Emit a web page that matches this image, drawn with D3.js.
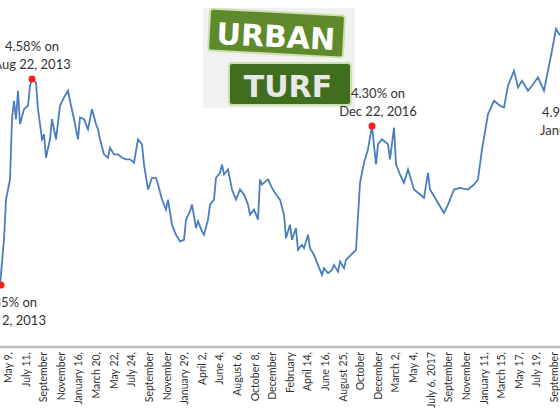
<!DOCTYPE html>
<html lang="en">
<head>
<meta charset="UTF-8" />
<title>Mortgage Rates</title>
<script src="https://d3js.org/d3.v7.min.js"></script>
<style>
  body { margin: 0; background: #fff; font-family: Lato, 'Open Sans', sans-serif; }
  svg text { fill: #333; }
</style>
</head>
<body>
<div id="chart"></div>
<script>
// week number since the May 2013 low, and the 30-yr rate (%)
const weeks = [0,2,3,5,6,7,8,9,10,12,14,15,16,18,19,21,22,23,25,26,28,30,32,34,35,37,39,40,42,44,46,48,49,50,52,54,55,57,59,61,63,65,67,69,71,72,74,76,78,79,81,83,84,86,88,90,92,93,95,96,98,99,101,102,104,105,107,108,110,111,112,114,116,117,118,120,122,124,125,127,129,130,131,133,134,136,138,140,142,143,145,146,148,149,151,152,154,155,157,159,161,162,164,166,167,169,170,172,173,178,180,182,184,186,188,189,191,194,195,197,198,200,202,204,207,210,212,214,215,218,222,224,227,230,234,237,239,241,244,247,250,252,254,257,259,261,264,266,269,272,274,276,278,280];
const rates = [3.35,3.62,3.86,3.98,4.34,4.45,4.34,4.51,4.31,4.40,4.42,4.54,4.58,4.56,4.40,4.22,4.25,4.11,4.22,4.34,4.22,4.42,4.47,4.51,4.45,4.34,4.22,4.35,4.34,4.28,4.40,4.31,4.28,4.22,4.13,4.11,4.17,4.13,4.13,4.11,4.10,4.10,4.08,4.22,4.19,4.07,3.92,3.99,3.99,3.95,3.86,3.80,3.86,3.71,3.65,3.61,3.62,3.74,3.79,3.83,3.69,3.73,3.67,3.65,3.74,3.83,3.86,3.99,4.02,4.07,4.01,4.04,3.92,3.89,3.86,3.92,3.89,3.83,3.77,3.80,3.74,3.98,3.95,3.97,3.98,3.93,3.89,3.86,3.77,3.63,3.71,3.62,3.69,3.56,3.59,3.57,3.65,3.57,3.53,3.47,3.41,3.45,3.42,3.44,3.47,3.43,3.49,3.45,3.50,3.56,3.96,4.08,4.16,4.30,4.07,4.19,4.22,4.19,4.10,4.29,4.07,4.01,3.96,4.04,3.92,3.89,3.87,4.02,3.92,3.86,3.78,3.83,3.92,3.93,3.92,3.95,3.98,4.16,4.37,4.45,4.42,4.41,4.54,4.63,4.53,4.57,4.51,4.54,4.59,4.51,4.63,4.75,4.88,4.84];

const tickLabels = ["May 9,","July 11,","September","November","January 16,","March 20,","May 22,","July 24,","September","November","January 29,","April 2,","June 4,","August 6,","October 8,","December","February","April 14,","June 16,","August 25,","October","December","March 2,","May 4,","July 6, 2017","September","November","January 11,","March 15,","May 17,","July 19,","September"];

const notes = [
  {k: 0, lines: ["3.35% on", "May 2, 2013"], dx: 10, dy: 22},
  {k: 12, lines: ["4.58% on", "Aug 22, 2013"], dx: 0, dy: -28},
  {k: 113, lines: ["4.30% on", "Dec 22, 2016"], dx: 6, dy: -28}
];

const W = 560, H = 420;
const svg = d3.select("#chart").append("svg").attr("width", W).attr("height", H);

const x = d3.scaleLinear().domain([0, 280]).range([0, 560]);
const y = d3.scaleLinear().domain([3.35, 4.58]).range([285, 79]);

// logo
const logo = svg.append("g");
logo.append("rect").attr("x", 203).attr("y", 8).attr("width", 152).attr("height", 100).attr("fill", "#f1f1f1");
logo.append("g").attr("transform", "rotate(3,276,34)").call(g => {
  g.append("rect").attr("x", 209).attr("y", 12).attr("width", 135).attr("height", 42).attr("rx", 3)
    .attr("fill", "#5e8a2c").attr("stroke", "#cfe0b0").attr("stroke-width", 2);
  g.append("text").attr("x", 276).attr("y", 47).attr("text-anchor", "middle")
    .style("font", "bold 30px 'DejaVu Sans'").style("fill", "#fff").text("URBAN");
});
logo.append("rect").attr("x", 229).attr("y", 63).attr("width", 122).attr("height", 42).attr("rx", 3)
  .attr("fill", "#416d1f").attr("stroke", "#cfe0b0").attr("stroke-width", 2);
logo.append("text").attr("x", 288).attr("y", 97).attr("text-anchor", "middle")
  .style("font", "bold 30px 'DejaVu Sans'").style("fill", "#e8e8e8").text("TURF");

// axis
svg.append("line").attr("x1", 0).attr("x2", W).attr("y1", 347).attr("y2", 347)
  .attr("stroke", "#bdbdbd").attr("stroke-width", 2.5);
const tx = d3.scalePoint().domain(d3.range(tickLabels.length)).range([8, 554]);
svg.selectAll(".tick").data(tickLabels).join("text")
  .attr("transform", (d, i) => `translate(${tx(i) + 4},352) rotate(-90)`)
  .attr("text-anchor", "end")
  .style("font-size", "10.5px")
  .text(d => d);

// line
svg.append("path").datum(rates)
  .attr("fill", "none").attr("stroke", "#4a7ebf").attr("stroke-width", 1.8)
  .attr("d", d3.line().x((d, i) => x(weeks[i])).y(d => y(d)));

// annotations
notes.forEach(n => {
  const px = x(weeks[n.k]), py = y(rates[n.k]);
  svg.append("circle").attr("cx", px + (n.k === 0 ? 1 : 0)).attr("cy", py).attr("r", 3.5).attr("fill", "#ff1a1a");
  n.lines.forEach((t, j) => {
    svg.append("text").attr("x", px + n.dx)
      .attr("y", py + n.dy + j * 18)
      .attr("text-anchor", "middle")
      .style("font-size", "13px").text(t);
  });
});
svg.append("text").attr("x", 542).attr("y", 117).style("font-size", "13px").text("4.94% on");
svg.append("text").attr("x", 540).attr("y", 135).style("font-size", "13px").text("January");
</script>
</body>
</html>
